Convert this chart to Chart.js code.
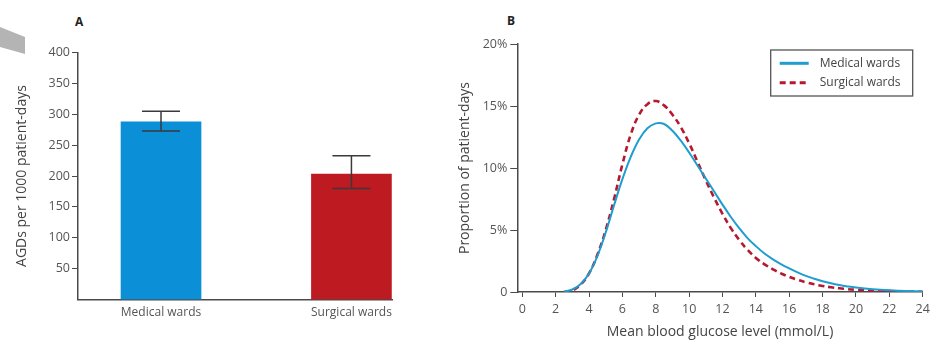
<!DOCTYPE html>
<html>
<head>
<meta charset="utf-8">
<script src="https://cdn.jsdelivr.net/npm/chart.js@4.4.1/dist/chart.umd.min.js"></script>
<style>
  html, body { margin: 0; padding: 0; background: #fff; }
  body { width: 939px; height: 350px; position: relative; overflow: hidden; font-family: 'Open Sans', sans-serif; }
  #wa { position: absolute; left: 0; top: 0; width: 420px; height: 350px; }
  #wb { position: absolute; left: 430px; top: 0; width: 509px; height: 350px; }
  .panel { position: absolute; font: bold 12px 'Open Sans', sans-serif; line-height: 12px; color: #222; }
  #shape { position: absolute; left: 0; top: 27px; width: 25px; height: 27px; background: #b4b4b4;
           clip-path: polygon(0 0, 100% 37%, 100% 100%, 0 74%); }
</style>
</head>
<body>
<div id="shape"></div>
<div class="panel" style="left:75px;top:16px;">A</div>
<div class="panel" style="left:507px;top:15px;">B</div>
<canvas id="wa" width="420" height="350"></canvas>
<canvas id="wb" width="509" height="350"></canvas>
<script>
// ---- Panel A data ----
const barCategories = ['Medical wards', 'Surgical wards'];
const barValues = [288, 203];
const barErrLow = [273, 180];
const barErrHigh = [305, 233];
const barYTicks = [50, 100, 150, 200, 250, 300, 350, 400];

// ---- Panel B data ----
const glucoseX = [2.5, 3, 3.5, 4, 4.5, 5, 5.5, 6, 6.5, 7, 7.5, 8, 8.5, 9, 9.5, 10, 10.5, 11, 11.5, 12, 12.5, 13, 13.5, 14, 14.5, 15, 15.5, 16, 16.5, 17, 17.5, 18, 18.5, 19, 19.5, 20, 21, 22, 23, 24];
const medicalPct = [0.02, 0.2, 0.65, 1.5, 2.9, 4.8, 7.0, 9.1, 10.9, 12.3, 13.2, 13.6, 13.55, 13.0, 12.2, 11.25, 10.2, 9.15, 8.1, 7.05, 6.05, 5.15, 4.35, 3.7, 3.12, 2.65, 2.25, 1.9, 1.58, 1.3, 1.07, 0.87, 0.7, 0.56, 0.45, 0.36, 0.23, 0.14, 0.08, 0.05];
const surgicalPct = [0.0, 0.12, 0.6, 1.5, 3.0, 5.0, 7.5, 10.3, 12.7, 14.3, 15.15, 15.4, 15.05, 14.3, 13.3, 12.0, 10.5, 9.0, 7.6, 6.3, 5.15, 4.2, 3.4, 2.75, 2.25, 1.85, 1.5, 1.22, 0.98, 0.78, 0.62, 0.49, 0.38, 0.3, 0.23, 0.18, 0.11, 0.07, 0.04, 0.02];
const glucoseXTicks = [0, 2, 4, 6, 8, 10, 12, 14, 16, 18, 20, 22, 24];
const pctYTicks = [0, 5, 10, 15, 20];
const seriesLabels = ['Medical wards', 'Surgical wards'];

Chart.defaults.font.family = "'Open Sans', sans-serif";
Chart.defaults.font.size = 12;
Chart.defaults.color = '#555';
Chart.defaults.animation = false;

const axisColor = '#4a4a4a';

const errorBarPlugin = {
  id: 'errorBars',
  afterDatasetsDraw(chart) {
    const ctx = chart.ctx;
    const y = chart.scales.y;
    const meta = chart.getDatasetMeta(0);
    ctx.save();
    ctx.strokeStyle = '#3a3a3a';
    ctx.lineWidth = 1.5;
    meta.data.forEach((bar, i) => {
      const x = bar.x;
      const yh = y.getPixelForValue(barErrHigh[i]);
      const yl = y.getPixelForValue(barErrLow[i]);
      const hw = 19;
      ctx.beginPath();
      ctx.moveTo(x, yh); ctx.lineTo(x, yl);
      ctx.moveTo(x - hw, yh); ctx.lineTo(x + hw, yh);
      ctx.moveTo(x - hw, yl); ctx.lineTo(x + hw, yl);
      ctx.stroke();
    });
    ctx.restore();
  }
};

new Chart(document.getElementById('wa'), {
  type: 'bar',
  data: {
    datasets: [{
      data: barValues.map((v, i) => ({ x: i, y: v })),
      backgroundColor: ['#0b8fd6', '#be1a22'],
      borderWidth: 0,
      barThickness: 80
    }]
  },
  options: {
    responsive: false,
    layout: { padding: { top: 52.6, right: 28, left: 0, bottom: 0 } },
    plugins: { legend: { display: false }, tooltip: { enabled: false } },
    scales: {
      x: {
        type: 'linear',
        offset: false,
        min: -0.436, max: 1.213,
        afterBuildTicks: (s) => { s.ticks = barCategories.map((_, i) => ({ value: i })); },
        afterFit: (s) => { s.height = 50.5; },
        ticks: { callback: (v) => barCategories[v], padding: 6, color: '#555', font: { size: 12 } },
        grid: { display: false, drawTicks: false },
        border: { display: true, color: axisColor, width: 1.5 }
      },
      y: {
        min: 0, max: 400,
        afterBuildTicks: (s) => { s.ticks = barYTicks.map(v => ({ value: v })); },
        afterFit: (s) => { s.width = 78; },
        ticks: { padding: 2, color: '#555', font: { size: 12.5 } },
        grid: { drawOnChartArea: false, drawTicks: true, tickLength: 6, color: axisColor },
        border: { display: true, color: axisColor, width: 1.5 },
        title: { display: true, text: 'AGDs per 1000 patient-days', color: '#444', font: { size: 14 }, padding: { top: 13.6 } }
      }
    }
  },
  plugins: [errorBarPlugin]
});

const boxLegendPlugin = {
  id: 'boxLegend',
  afterDraw(chart) {
    const ctx = chart.ctx;
    const ca = chart.chartArea;
    const w = 142, h = 46;
    const x0 = ca.right - 10 - w, y0 = ca.top + 6;
    ctx.save();
    ctx.strokeStyle = '#555';
    ctx.lineWidth = 1.3;
    ctx.strokeRect(x0, y0, w, h);
    chart.data.datasets.forEach((ds, i) => {
      const yy = y0 + 13.3 + i * 19.5;
      ctx.strokeStyle = ds.borderColor;
      ctx.lineWidth = 3;
      ctx.setLineDash(ds.borderDash || []);
      ctx.beginPath(); ctx.moveTo(x0 + 9, yy); ctx.lineTo(x0 + 38, yy); ctx.stroke();
      ctx.setLineDash([]);
      ctx.fillStyle = '#444';
      ctx.font = "12px 'Open Sans', sans-serif";
      ctx.textBaseline = 'middle';
      ctx.textAlign = 'left';
      ctx.fillText(ds.label, x0 + 49, yy);
    });
    ctx.restore();
  }
};

new Chart(document.getElementById('wb'), {
  type: 'line',
  data: {
    datasets: [
      {
        label: seriesLabels[0],
        data: glucoseX.map((x, i) => ({ x, y: medicalPct[i] })),
        borderColor: '#1f9dcf',
        borderWidth: 2,
        pointRadius: 0,
        tension: 0.4,
        fill: false
      },
      {
        label: seriesLabels[1],
        data: glucoseX.map((x, i) => ({ x, y: surgicalPct[i] })),
        borderColor: '#b3192f',
        borderWidth: 2.6,
        borderDash: [6, 4],
        pointRadius: 0,
        tension: 0.4,
        fill: false
      }
    ]
  },
  options: {
    responsive: false,
    layout: { padding: { top: 44, right: 16.3, left: 0, bottom: 0 } },
    plugins: { legend: { display: false }, tooltip: { enabled: false } },
    scales: {
      x: {
        type: 'linear',
        min: -0.3, max: 24,
        afterBuildTicks: (s) => { s.ticks = glucoseXTicks.map(v => ({ value: v })); },
        afterFit: (s) => { s.height = 58; },
        ticks: { padding: 5, color: '#555', font: { size: 12.5 }, maxRotation: 0 },
        grid: { drawOnChartArea: false, drawTicks: true, tickLength: 5, color: axisColor },
        border: { display: true, color: axisColor, width: 1.5 },
        title: { display: true, text: 'Mean blood glucose level (mmol/L)', color: '#444', font: { size: 14 }, padding: { bottom: 9.6 } }
      },
      y: {
        min: 0, max: 20,
        afterBuildTicks: (s) => { s.ticks = pctYTicks.map(v => ({ value: v })); },
        afterFit: (s) => { s.width = 87.3; },
        ticks: { padding: 3, color: '#555', font: { size: 12.5 }, callback: (v) => v === 0 ? '0' : v + '%' },
        grid: { drawOnChartArea: false, drawTicks: true, tickLength: 7, color: axisColor },
        border: { display: true, color: axisColor, width: 1.5 },
        title: { display: true, text: 'Proportion of patient-days', color: '#444', font: { size: 14 }, padding: { top: 26.6 } }
      }
    }
  },
  plugins: [boxLegendPlugin]
});
</script>
</body>
</html>
